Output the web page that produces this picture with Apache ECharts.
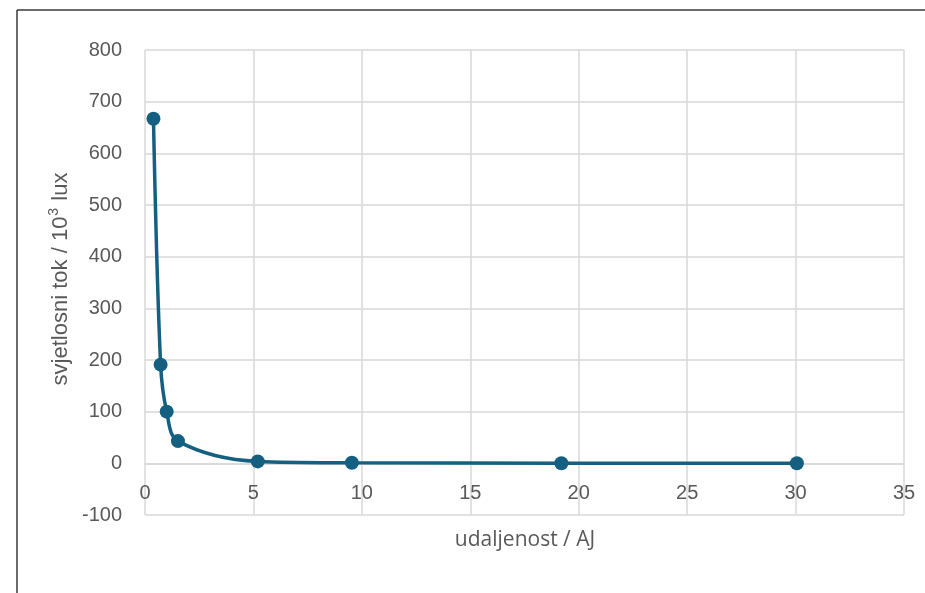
<!DOCTYPE html>
<html>
<head>
<meta charset="utf-8">
<script src="https://cdn.jsdelivr.net/npm/echarts@6/dist/echarts.min.js"></script>
<style>
html,body{margin:0;padding:0;background:#fff;}
#chart{width:925px;height:593px;}
</style>
</head>
<body>
<div id="chart"></div>
<script>
const distances = [0.39, 0.72, 1.0, 1.52, 5.2, 9.54, 19.2, 30.06];
const flux = [667, 191, 100, 43, 3.7, 1.1, 0.27, 0.11];
const xTitle = 'udaljenost / AJ';
const yTitleParts = ['svjetlosni tok / 10', '3', ' lux'];
const yMin = -100, yMax = 800, yStep = 100;
const xMin = 0, xMax = 35, xStep = 5;

const chart = echarts.init(document.getElementById('chart'));
const labelColor = '#595959';
const gridColor = '#d9d9d9';
const numFont = '"Liberation Sans", Arial, sans-serif';
const titleFont = '"Open Sans", "Noto Sans", sans-serif';

const gridTop = 50, gridBottom = 78;
const gridHeight = 593 - gridTop - gridBottom;
// place the horizontal axis where y = 0 crosses (as in the source chart)
const zeroOffset = -((0 - yMin) / (yMax - yMin)) * gridHeight;

chart.setOption({
  animation: false,
  graphic: [
    {type: 'line', shape: {x1: 17, y1: 10, x2: 925, y2: 10}, style: {stroke: '#3a3a3a', lineWidth: 1.5}},
    {type: 'line', shape: {x1: 17, y1: 10, x2: 17, y2: 593}, style: {stroke: '#3a3a3a', lineWidth: 1.5}},
    {type: 'text', x: 525, y: 540,
      style: {text: xTitle, fill: labelColor, font: '21px ' + titleFont, textAlign: 'center', textVerticalAlign: 'middle'}},
    {type: 'text', x: 61, y: 279, rotation: Math.PI / 2,
      style: {
        text: '{a|' + yTitleParts[0] + '}{s|' + yTitleParts[1] + '}{a|' + yTitleParts[2] + '}',
        textAlign: 'center', textVerticalAlign: 'middle',
        rich: {
          a: {fill: labelColor, fontSize: 22, fontFamily: numFont},
          s: {fill: labelColor, fontSize: 14, fontFamily: numFont, padding: [0, 1, 13, 1]}
        }
      }}
  ],
  grid: {left: 145, right: 21, top: gridTop, bottom: gridBottom, containLabel: false, outerBoundsMode: 'none'},
  xAxis: {
    type: 'value', min: xMin, max: xMax, interval: xStep,
    position: 'bottom',
    offset: zeroOffset,
    axisLine: {show: true, onZero: false, lineStyle: {color: gridColor, width: 1.5}},
    axisTick: {show: false},
    splitLine: {show: true, lineStyle: {color: gridColor, width: 1.5}},
    axisLabel: {color: labelColor, fontSize: 20, fontFamily: numFont, margin: 20}
  },
  yAxis: {
    type: 'value', min: yMin, max: yMax, interval: yStep,
    axisLine: {show: false, onZero: false},
    axisTick: {show: false},
    splitLine: {show: true, lineStyle: {color: gridColor, width: 1.5}},
    axisLabel: {color: labelColor, fontSize: 20, fontFamily: numFont, margin: 23}
  },
  series: [{
    type: 'line',
    data: distances.map((d, i) => [d, flux[i]]),
    smooth: 0.35,
    symbol: 'circle',
    symbolSize: 14,
    itemStyle: {color: '#155f80'},
    lineStyle: {color: '#155f80', width: 3.5}
  }]
});
</script>
</body>
</html>
